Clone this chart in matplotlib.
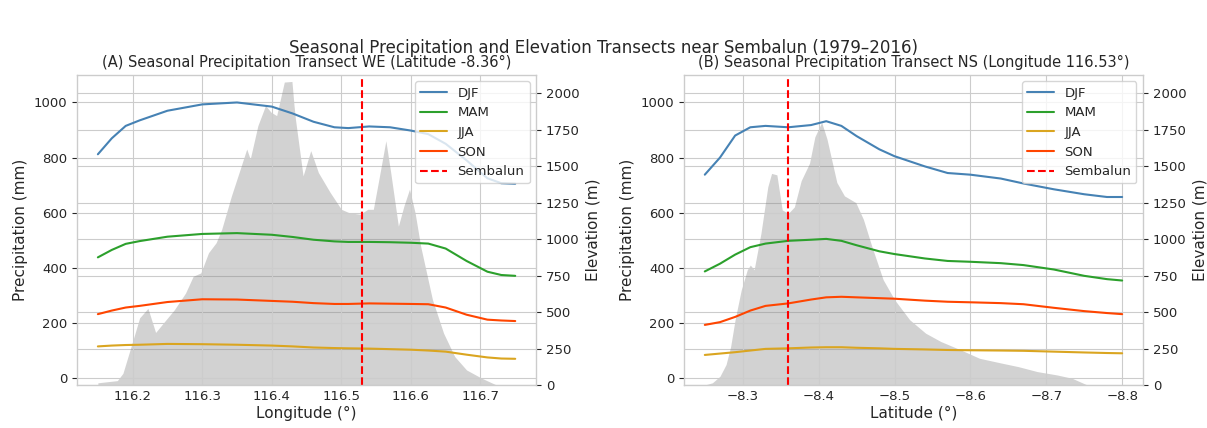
import matplotlib
matplotlib.use("Agg")
import matplotlib.pyplot as plt

# ---- West-East transect (latitude -8.36) ----
lon_line = [116.15, 116.17, 116.19, 116.21, 116.25, 116.30, 116.35, 116.40, 116.43, 116.46, 116.49,
            116.51, 116.54, 116.57, 116.60, 116.625, 116.65, 116.68, 116.71, 116.73, 116.75]
we_djf = [812, 870, 915, 935, 970, 993, 1000, 985, 960, 930, 910, 907, 913, 910, 898, 885, 850, 790, 725, 707, 705]
we_mam = [438, 465, 487, 497, 513, 523, 526, 520, 512, 502, 496, 494, 494, 493, 491, 488, 470, 425, 386, 374, 371]
we_jja = [115, 118, 120, 121, 124, 123, 121, 118, 115, 111, 109, 108, 107, 105, 103, 100, 96, 85, 75, 71, 70]
we_son = [232, 245, 256, 262, 276, 286, 285, 280, 277, 272, 269, 269, 271, 270, 269, 268, 256, 230, 212, 209, 207]

lon_elev = [116.15, 116.178, 116.186, 116.2, 116.21, 116.222, 116.233, 116.244, 116.26, 116.276, 116.287,
            116.298, 116.309, 116.32, 116.328, 116.342, 116.353, 116.364, 116.369, 116.38, 116.391, 116.399,
            116.407, 116.418, 116.429, 116.432, 116.434, 116.445, 116.456, 116.467, 116.484, 116.5, 116.511,
            116.527, 116.538, 116.546, 116.554, 116.564, 116.571, 116.582, 116.59, 116.598, 116.606, 116.614,
            116.631, 116.647, 116.663, 116.68, 116.702, 116.723, 116.75]
we_elev = [15, 30, 80, 300, 460, 525, 360, 424, 516, 630, 745,
           768, 906, 975, 1067, 1296, 1456, 1617, 1548, 1777, 1915, 1869,
           1846, 2076, 2080, 1915, 1823, 1433, 1606, 1456, 1319, 1204, 1181,
           1170, 1204, 1204, 1410, 1674, 1456, 1089, 1227, 1342, 1181, 952,
           585, 355, 195, 103, 46, 0, 0]

# ---- North-South transect (longitude 116.53) ----
lat_line = [-8.25, -8.27, -8.29, -8.31, -8.33, -8.36, -8.39, -8.41, -8.43, -8.45, -8.48,
            -8.50, -8.54, -8.57, -8.60, -8.64, -8.67, -8.71, -8.75, -8.78, -8.80]
ns_djf = [738, 800, 880, 910, 915, 910, 918, 932, 915, 878, 830, 805, 768, 744, 738, 724, 706, 685, 667, 657, 657]
ns_mam = [387, 415, 448, 475, 488, 498, 502, 505, 498, 482, 460, 450, 434, 425, 422, 417, 410, 394, 371, 359, 354]
ns_jja = [84, 89, 94, 100, 106, 108, 111, 112, 112, 110, 108, 106, 104, 102, 101, 100, 99, 96, 93, 91, 90]
ns_son = [193, 203, 222, 245, 262, 271, 285, 293, 295, 293, 290, 288, 281, 277, 275, 272, 268, 255, 243, 236, 232]

lat_elev = [-8.25, -8.26, -8.27, -8.278, -8.284, -8.29, -8.298, -8.306, -8.31, -8.315, -8.324, -8.333,
            -8.338, -8.345, -8.352, -8.36, -8.368, -8.377, -8.388, -8.395, -8.404, -8.411, -8.424,
            -8.434, -8.449, -8.459, -8.47, -8.485, -8.5, -8.52, -8.541, -8.561, -8.587, -8.612,
            -8.642, -8.663, -8.688, -8.714, -8.734, -8.754, -8.8]
ns_elev = [0, 15, 60, 140, 262, 450, 651, 790, 822, 790, 1040, 1358,
           1450, 1440, 1200, 1176, 1220, 1400, 1520, 1700, 1800, 1686, 1388,
           1296, 1250, 1135, 952, 722, 585, 447, 355, 298, 241, 183,
           149, 126, 92, 69, 46, 0, 0]

sembalun_lon = 116.53
sembalun_lat = -8.36

seasons = ["DJF", "MAM", "JJA", "SON"]
colors = ["steelblue", "tab:green", "goldenrod", "orangered"]

plt.style.use("seaborn-v0_8-whitegrid")
plt.rcParams.update({
    "font.family": "DejaVu Sans",
    "ytick.major.size": 3.5,
    "ytick.color": ".15",
    "xtick.color": ".15",
    "axes.edgecolor": ".8",
})

fig, axes = plt.subplots(1, 2, figsize=(12.07, 4.28), dpi=100)
fig.subplots_adjust(left=0.0638, right=0.947, top=0.825, bottom=0.1005, wspace=0.322)

panels = [
    (axes[0], lon_line, [we_djf, we_mam, we_jja, we_son], lon_elev, we_elev, sembalun_lon,
     "Longitude (°)", "(A) Seasonal Precipitation Transect WE (Latitude -8.36°)"),
    (axes[1], lat_line, [ns_djf, ns_mam, ns_jja, ns_son], lat_elev, ns_elev, sembalun_lat,
     "Latitude (°)", "(B) Seasonal Precipitation Transect NS (Longitude 116.53°)"),
]

for ax, xs, series, xe, elev, sx, xlabel, title in panels:
    ax2 = ax.twinx()
    ax2.fill_between(xe, elev, color="gray", alpha=0.35, linewidth=0)
    ax2.set_ylim(0, 2125)
    ax2.set_ylabel("Elevation (m)", fontsize=11)
    ax2.tick_params(axis="y", labelsize=9.5, right=True, length=3.5)
    ax2.spines[:].set_visible(False)

    for s, vals, c in zip(seasons, series, colors):
        ax.plot(xs, vals, color=c, lw=1.5, label=s)
    ax.axvline(sx, color="red", ls="--", lw=1.5, label="Sembalun")

    ax.set_zorder(ax2.get_zorder() + 1)
    ax.patch.set_visible(False)
    ax.set_ylim(-25, 1100)
    ax.set_xlabel(xlabel, fontsize=11, labelpad=2)
    ax.set_ylabel("Precipitation (mm)", fontsize=11)
    ax.set_title(title, fontsize=10.5)
    ax.tick_params(axis="both", labelsize=9.5)
    ax.tick_params(axis="y", left=True, length=3.5)
    ax.legend(loc="upper right", fontsize=9.5, frameon=True)

axes[1].invert_xaxis()

fig.suptitle("Seasonal Precipitation and Elevation Transects near Sembalun (1979–2016)", fontsize=12, y=0.91)
fig.savefig("out.png", dpi=100)
